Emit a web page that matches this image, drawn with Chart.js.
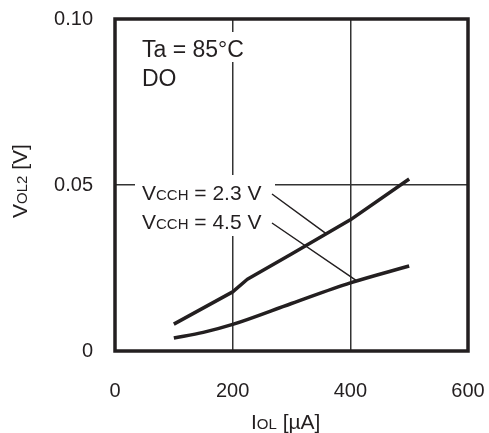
<!DOCTYPE html>
<html>
<head>
<meta charset="utf-8">
<script src="https://cdn.jsdelivr.net/npm/chart.js@4"></script>
<style>
  html, body { margin: 0; padding: 0; background: #fff; }
  #wrap { width: 489px; height: 433px; }
</style>
</head>
<body>
<div id="wrap"><canvas id="c" width="489" height="433"></canvas></div>
<script>
// ---- data ----
const xTicks = [0, 200, 400, 600];
const yTicks = [0, 0.05, 0.10];
const yTickLabels = ['0', '0.05', '0.10'];
const vcc23_IOL = [100, 200, 225, 300, 400, 500];
const vcc23_VOL = [0.0081, 0.0178, 0.0216, 0.0292, 0.0395, 0.0518];
const vcc45_IOL = [100, 150, 200, 300, 400, 500];
const vcc45_VOL = [0.0039, 0.0056, 0.0080, 0.0143, 0.0205, 0.0256];
const seriesNames = ['VCCH = 2.3 V', 'VCCH = 4.5 V'];

const INK = '#231f20';
const FONT = '"Liberation Sans", Arial, sans-serif';

function pts(xs, ys) { return xs.map((x, i) => ({ x: x, y: ys[i] })); }

function drawMixed(ctx, parts, x, y) {
  let cx = x;
  for (const [t, s] of parts) {
    ctx.font = s + 'px ' + FONT;
    ctx.fillText(t, cx, y);
    cx += ctx.measureText(t).width;
  }
}

const decor = {
  id: 'decor',
  beforeDatasetsDraw(chart) {
    const ctx = chart.ctx;
    const xs = chart.scales.x, ys = chart.scales.y;
    ctx.save();
    ctx.fillStyle = '#fff';
    ctx.fillRect(136, 32, 120, 30);
    ctx.fillRect(135, 175, 140, 61);
    ctx.fillStyle = INK;
    ctx.textAlign = 'left';
    ctx.textBaseline = 'alphabetic';
    ctx.font = '23px ' + FONT;
    ctx.fillText('Ta = 85\u00B0C', 142, 57);
    ctx.fillText('DO', 142, 86);
    drawMixed(ctx, [['V', 21], ['CCH', 15], [' = 2.3 V', 21]], 142, 200);
    drawMixed(ctx, [['V', 21], ['CCH', 15], [' = 4.5 V', 21]], 142, 229);
    ctx.strokeStyle = INK;
    ctx.lineWidth = 1.5;
    ctx.beginPath();
    ctx.moveTo(272, 194);
    ctx.lineTo(xs.getPixelForValue(360), ys.getPixelForValue(0.0352));
    ctx.moveTo(272, 223);
    ctx.lineTo(xs.getPixelForValue(411), ys.getPixelForValue(0.0211));
    ctx.stroke();
    ctx.restore();
  },
  afterDraw(chart) {
    const ctx = chart.ctx;
    const a = chart.chartArea;
    ctx.save();
    ctx.strokeStyle = INK;
    ctx.lineWidth = 3.5;
    ctx.strokeRect(a.left, a.top, a.right - a.left, a.bottom - a.top);
    ctx.fillStyle = INK;
    ctx.textBaseline = 'alphabetic';
    ctx.textAlign = 'left';
    drawMixed(ctx, [['I', 21], ['OL', 15], [' [\u00B5A]', 21]], 251, 429);
    ctx.translate(27, 218);
    ctx.rotate(-Math.PI / 2);
    drawMixed(ctx, [['V', 21], ['OL2', 15], [' [V]', 21]], 0, 0);
    ctx.restore();
  }
};

new Chart(document.getElementById('c'), {
  type: 'line',
  data: {
    datasets: [
      { label: seriesNames[0], data: pts(vcc23_IOL, vcc23_VOL), borderColor: INK, borderWidth: 3.5,
        pointRadius: 0, tension: 0, borderJoinStyle: 'round', fill: false },
      { label: seriesNames[1], data: pts(vcc45_IOL, vcc45_VOL), borderColor: INK, borderWidth: 3.5,
        pointRadius: 0, cubicInterpolationMode: 'monotone', fill: false }
    ]
  },
  options: {
    responsive: false,
    animation: false,
    devicePixelRatio: 1,
    layout: { padding: { left: 0, right: 21, top: 19, bottom: 0 } },
    plugins: { legend: { display: false }, tooltip: { enabled: false } },
    scales: {
      x: {
        type: 'linear', min: 0, max: 600,
        afterBuildTicks(s) { s.ticks = xTicks.map(v => ({ value: v })); },
        afterFit(s) { s.height = 82; s.paddingLeft = 0; s.paddingRight = 0; },
        ticks: { color: INK, font: { family: FONT, size: 20 }, padding: 28, maxRotation: 0,
                 callback: v => String(v) },
        grid: { drawTicks: false, lineWidth: 1.5,
                color: c => (c.tick && (c.tick.value === 200 || c.tick.value === 400)) ? '#333' : 'rgba(0,0,0,0)' },
        border: { display: false },
        title: { display: false }
      },
      y: {
        type: 'linear', min: 0, max: 0.10,
        afterBuildTicks(s) { s.ticks = yTicks.map(v => ({ value: v })); },
        afterFit(s) { s.width = 115; s.paddingTop = 0; s.paddingBottom = 0; },
        ticks: { color: INK, font: { family: FONT, size: 20 }, padding: 22,
                 callback: (v) => yTickLabels[yTicks.findIndex(t => Math.abs(t - v) < 1e-9)] },
        grid: { drawTicks: false, lineWidth: 1.5,
                color: c => (c.tick && Math.abs(c.tick.value - 0.05) < 1e-9) ? '#333' : 'rgba(0,0,0,0)' },
        border: { display: false },
        title: { display: false }
      }
    }
  },
  plugins: [decor]
});
</script>
</body>
</html>
